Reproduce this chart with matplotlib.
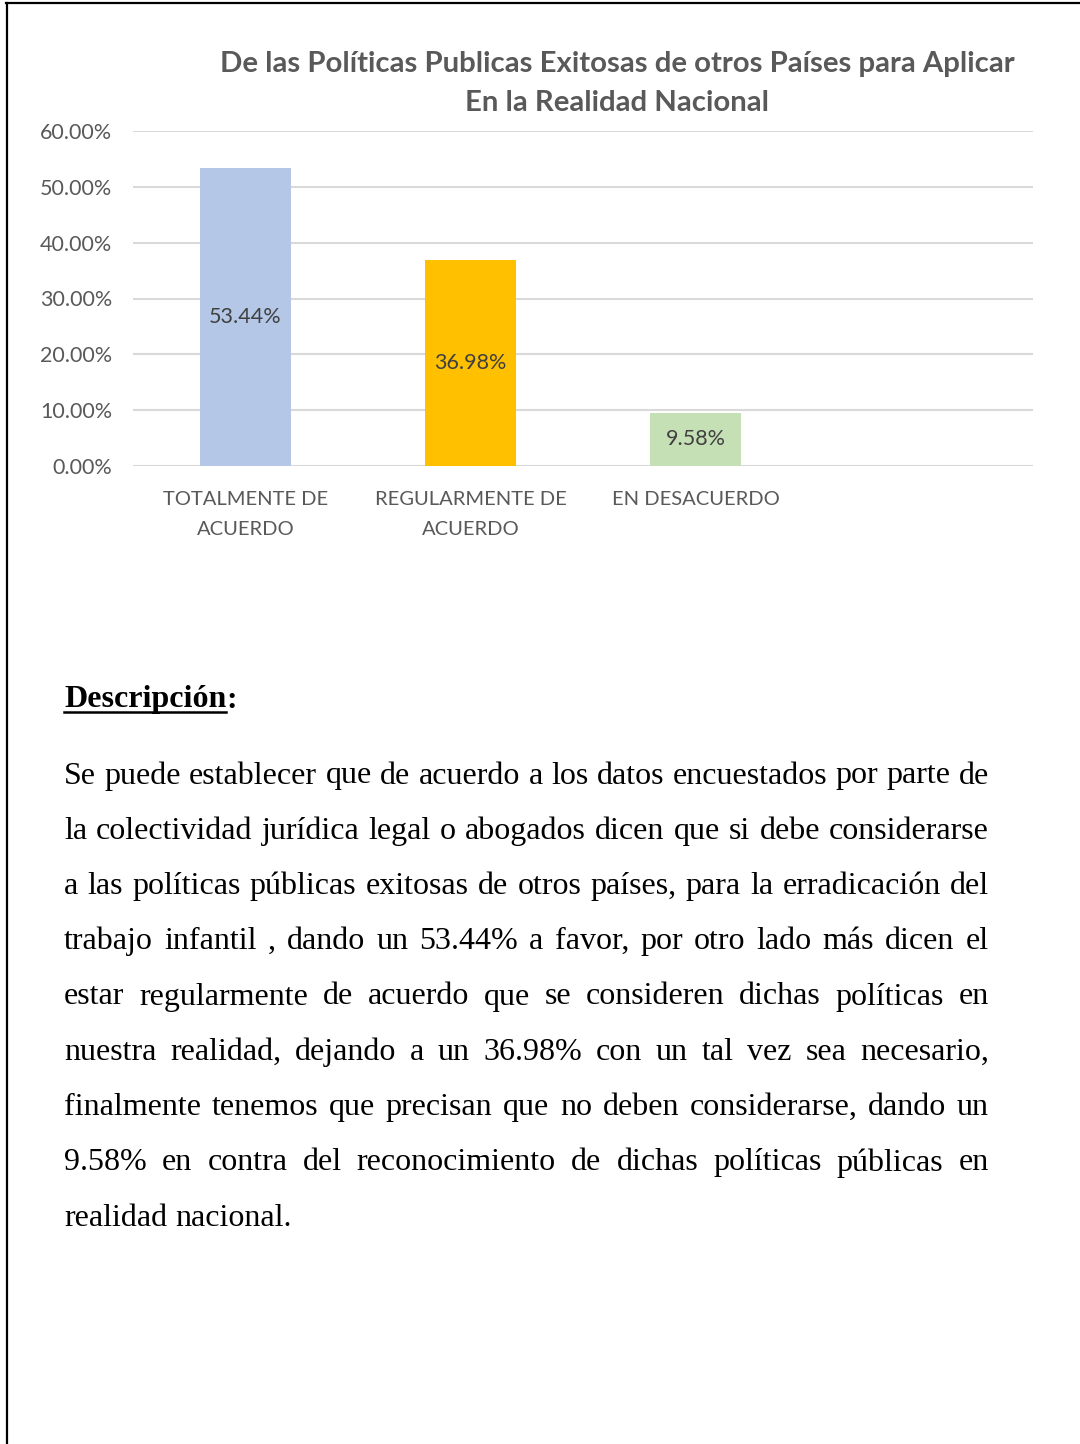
import matplotlib
matplotlib.use("Agg")
import matplotlib.pyplot as plt
from matplotlib.lines import Line2D
from matplotlib.font_manager import FontProperties
from matplotlib.ticker import FuncFormatter

# ---- data ----
categories = ["TOTALMENTE DE\nACUERDO", "REGULARMENTE DE\nACUERDO", "EN DESACUERDO", ""]
values = [0.5344, 0.3698, 0.0958]
bar_colors = ["#B4C7E7", "#FFC000", "#C5E0B4"]
yticks = [0.0, 0.1, 0.2, 0.3, 0.4, 0.5, 0.6]
title = "De las Políticas Publicas Exitosas de otros Países para Aplicar\nEn la Realidad Nacional"
heading = "Descripción"
body_lines = [
    "Se puede establecer que de acuerdo a los datos encuestados por parte de",
    "la colectividad jurídica legal o abogados dicen que si debe considerarse",
    "a las políticas públicas exitosas de otros países, para la  erradicación del",
    "trabajo infantil , dando un 53.44% a favor, por otro lado más dicen el",
    "estar regularmente de acuerdo que se consideren dichas políticas en",
    "nuestra realidad, dejando a un 36.98% con un tal vez sea necesario,",
    "finalmente tenemos que precisan que no deben considerarse, dando un",
    "9.58% en contra del reconocimiento de dichas políticas públicas en",
    "realidad nacional.",
]

W, H = 1080, 1444
DPI = 100
fig = plt.figure(figsize=(W / DPI, H / DPI), dpi=DPI)
fig.patch.set_facecolor("white")

SANS = "Lato"
SERIF = "Liberation Serif"
GRAY = "#595959"

def fx(px):
    return px / W

def fy(py):
    return 1 - py / H

# ---- chart ----
ax = fig.add_axes([fx(133), fy(466), fx(1033) - fx(133), fy(131) - fy(466)])
x = list(range(len(values)))
bars = ax.bar(x, values, width=0.404, color=bar_colors, zorder=3)
ax.set_xlim(-0.5, 3.5)
ax.set_ylim(0, 0.6)
ax.set_yticks(yticks)
ax.yaxis.set_major_formatter(FuncFormatter(lambda v, p: f"{v * 100:.2f}%"))
ax.grid(axis="y", color="#D9D9D9", linewidth=1.5, zorder=0)
for s in ax.spines.values():
    s.set_visible(False)
ax.tick_params(axis="y", length=0, pad=15, labelsize=15.5, labelcolor=GRAY)
ax.set_xticks(range(len(categories)))
ax.set_xticklabels(categories, linespacing=1.9)
ax.tick_params(axis="x", length=0, pad=18, labelsize=14.5, labelcolor=GRAY)
for lab in ax.get_xticklabels() + ax.get_yticklabels():
    lab.set_family(SANS)
for b, v in zip(bars, values):
    ax.text(b.get_x() + b.get_width() / 2, v / 2, f"{v * 100:.2f}%",
            ha="center", va="center", fontsize=15.5, color="#404040", family=SANS, zorder=4)

fig.text(fx(617), fy(83.5), title, ha="center", va="center", fontsize=21.2,
         fontweight="bold", color=GRAY, family=SANS, linespacing=1.6)

# ---- border ----
fig.add_artist(Line2D([fx(6), 1.0], [fy(3), fy(3)], color="black", linewidth=1.6))
fig.add_artist(Line2D([fx(7), fx(7)], [fy(3), 0.0], color="black", linewidth=1.6))

# ---- text block ----
fig.canvas.draw()
r = fig.canvas.get_renderer()

def tw(s, fp):
    w, h, d = r.get_text_width_height_descent(s, fp, ismath=False)
    return w

fp_head = FontProperties(family=SERIF, weight="bold", size=23)
hy = 700
fig.text(fx(64), fy(hy), heading, ha="left", va="center", fontproperties=fp_head, color="black")
hw = tw(heading, fp_head)
fig.text(fx(64 + hw), fy(hy), ":", ha="left", va="center", fontproperties=fp_head, color="black")
fig.add_artist(Line2D([fx(64), fx(64 + hw)], [fy(hy + 12), fy(hy + 12)], color="black", linewidth=1.8))

fp_body = FontProperties(family=SERIF, size=23)
left, right = 64, 989
y0, dy = 776, 55.25
space_w = tw("a b", fp_body) - tw("ab", fp_body)
for i, line in enumerate(body_lines):
    y = y0 + i * dy
    words = line.split()
    widths = [tw(w_, fp_body) for w_ in words]
    if i == len(body_lines) - 1 or len(words) == 1:
        gap = space_w
    else:
        gap = (right - left - sum(widths)) / (len(words) - 1)
    xx = left
    for w_, wd in zip(words, widths):
        fig.text(fx(xx), fy(y), w_, ha="left", va="center", fontproperties=fp_body, color="black")
        xx += wd + gap

fig.savefig("out.png", dpi=DPI, facecolor="white")
